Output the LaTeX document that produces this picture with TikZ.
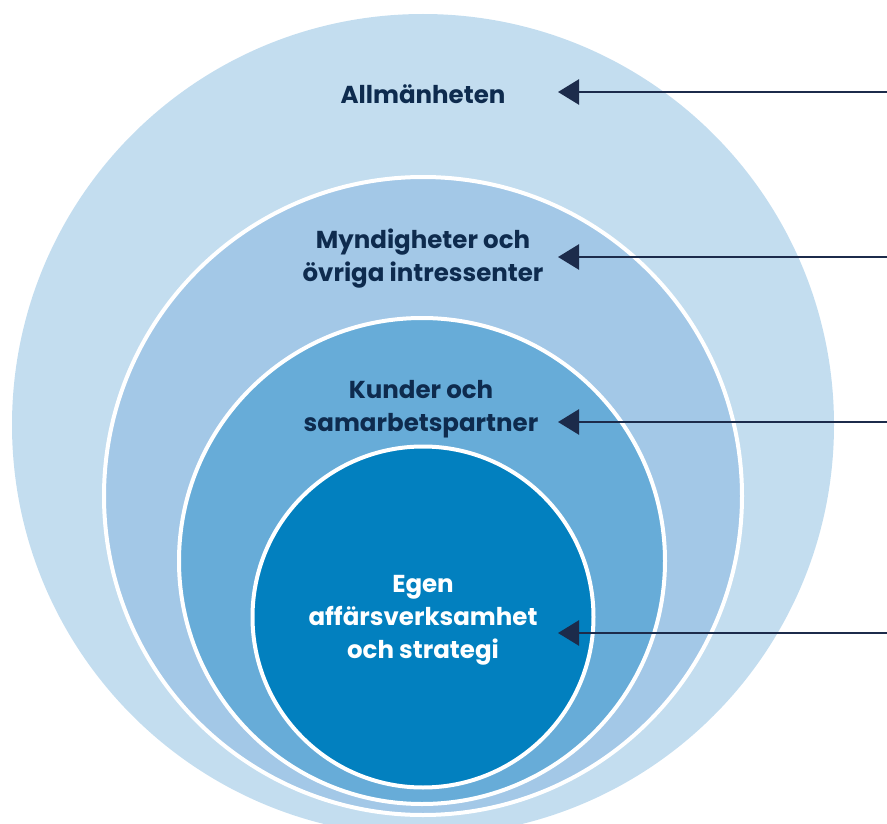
\documentclass[tikz,border=0pt]{standalone}
\usepackage{fontspec}
\setmainfont{Poppins}
\usetikzlibrary{arrows.meta}
\definecolor{ringA}{HTML}{C3DDEF}
\definecolor{ringB}{HTML}{A3C8E7}
\definecolor{ringC}{HTML}{67ACD8}
\definecolor{ringD}{HTML}{0280BF}
\definecolor{txtnavy}{HTML}{0E2B4E}
\definecolor{arrnavy}{HTML}{1C2B4B}
\tikzset{
  ring/.style={circle, inner sep=0pt, outer sep=0pt, draw=white, line width=4pt},
  lbl/.style={align=center, font=\fontsize{24.5}{33}\selectfont\bfseries, text=txtnavy, inner sep=0pt},
  arr/.style={draw=arrnavy, line width=2.5pt, -{Triangle[length=21pt,width=25pt]}}
}
\begin{document}
\begin{tikzpicture}[x=1pt,y=-1pt]
\useasboundingbox (0,0) rectangle (887,824);
\node[ring, draw=none, fill=ringA, minimum size=822pt] (outer) at (423,425) {};
\node[ring, fill=ringB, minimum size=638pt] (ringtwo) at (423,496) {};
\node[ring, fill=ringC, minimum size=486pt] (ringthree) at (422,561) {};
\node[ring, fill=ringD, minimum size=341pt] (core) at (423,617) {};
\node[lbl, anchor=base] (t1) at (423,104) {Allmänheten};
\node[lbl, anchor=base] (t2) at (423,281) {Myndigheter och\\övriga intressenter};
\node[lbl, anchor=base] (t3) at (421,431) {Kunder och\\samarbetspartner};
\node[lbl, anchor=base, text=white] (t4) at (423,658) {Egen\\affärsverksamhet\\och strategi};
\coordinate (s1) at (890,92);  \coordinate (e1) at (558,92);
\coordinate (s2) at (890,257); \coordinate (e2) at (558,257);
\coordinate (s3) at (890,422); \coordinate (e3) at (558,422);
\coordinate (s4) at (890,633); \coordinate (e4) at (558,633);
\draw[arr] (s1) -- (e1);
\draw[arr] (s2) -- (e2);
\draw[arr] (s3) -- (e3);
\draw[arr] (s4) -- (e4);
\end{tikzpicture}
\end{document}
